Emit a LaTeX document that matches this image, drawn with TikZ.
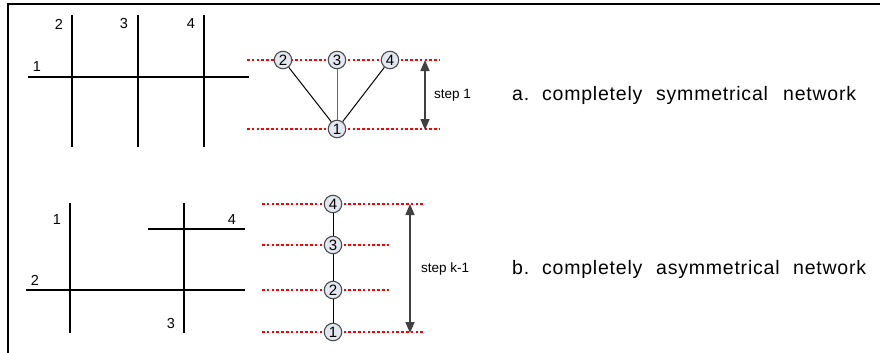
\documentclass[tikz,border=0pt]{standalone}
\usepackage{fontspec}
\setmainfont{Liberation Sans}
\newfontfamily\capfont[LetterSpace=4]{Liberation Sans}
\usetikzlibrary{arrows.meta}
\definecolor{ndfill}{RGB}{226,231,240}
\definecolor{dotred}{RGB}{255,0,0}
\begin{document}
\begin{tikzpicture}[x=1pt,y=-1pt,
  grid/.style={line width=2.4pt,black},
  lbl/.style={font=\fontsize{14.5}{16}\selectfont,inner sep=0pt},
  steplbl/.style={font=\fontsize{13.5}{16}\selectfont,inner sep=0pt,anchor=west},
  dotline/.style={dotred,line width=2.6pt,dash pattern=on 2.6pt off 2.2pt},
  nd/.style={circle,draw=black!70,fill=ndfill,line width=1.1pt,minimum size=17.5pt,inner sep=0pt,font=\fontsize{15}{16}\selectfont},
  conn/.style={line width=1pt,black},
  dim/.style={line width=1.5pt,black!75,{Triangle[length=11pt,width=9pt]}-{Triangle[length=11pt,width=9pt]}},
  captxt/.style={font=\capfont\fontsize{19.5}{22}\selectfont,inner sep=0pt,anchor=west}]
\useasboundingbox (0,0) rectangle (880,353);
\draw[line width=1.8pt] (8,353) -- (8,4) -- (880,4);
% top grid
\draw[grid] (28,77) -- (249,77);
\foreach \x in {72,138,204} \draw[grid] (\x,15) -- (\x,147);
\node[lbl] (t1) at (37,67) {1};
\node[lbl] (t2) at (59,24) {2};
\node[lbl] (t3) at (124,24) {3};
\node[lbl] (t4) at (191,24) {4};
% top levels
\draw[dotline] (247,60) -- (440,60);
\draw[dotline] (247,129) -- (440,129);
\node[nd] (a2) at (283,60) {2};
\node[nd] (a3) at (337,60) {3};
\node[nd] (a4) at (390,60) {4};
\node[nd] (a1) at (337,129) {1};
\draw[conn] (a1) -- (a2);
\draw[conn,black!60] (a1) -- (a3);
\draw[conn] (a1) -- (a4);
\coordinate (sa) at (425,60);
\coordinate (sb) at (425,130);
\draw[dim] (sa) -- (sb);
\node[steplbl] (st1) at (434,95) {step 1};
\node[captxt] (capa) at (512,95) {\makebox[30pt][l]{a.}\makebox[114pt][l]{completely}\makebox[127pt][l]{symmetrical}network};
% bottom grid
\draw[grid] (70,203) -- (70,333);
\draw[grid] (184,203) -- (184,333);
\draw[grid] (26,290) -- (245,290);
\draw[grid] (148,229) -- (245,229);
\node[lbl] (b1) at (57,220) {1};
\node[lbl] (b2) at (35,280) {2};
\node[lbl] (b3) at (171,324) {3};
\node[lbl] (b4) at (232,220) {4};
% bottom levels
\draw[dotline] (262,204) -- (425,204);
\draw[dotline] (262,245) -- (390,245);
\draw[dotline] (262,290) -- (390,290);
\draw[dotline] (262,332) -- (425,332);
\node[nd] (c4) at (333,204) {4};
\node[nd] (c3) at (333,245) {3};
\node[nd] (c2) at (333,290) {2};
\node[nd] (c1) at (333,332) {1};
\draw[conn] (c4) -- (c3);
\draw[conn] (c3) -- (c2);
\draw[conn] (c2) -- (c1);
\coordinate (ka) at (410,204);
\coordinate (kb) at (410,333);
\draw[dim] (ka) -- (kb);
\node[steplbl] (stk) at (421,269) {step k-1};
\node[captxt] (capb) at (512,269) {\makebox[30pt][l]{b.}\makebox[114pt][l]{completely}\makebox[137pt][l]{asymmetrical}network};
\end{tikzpicture}
\end{document}
